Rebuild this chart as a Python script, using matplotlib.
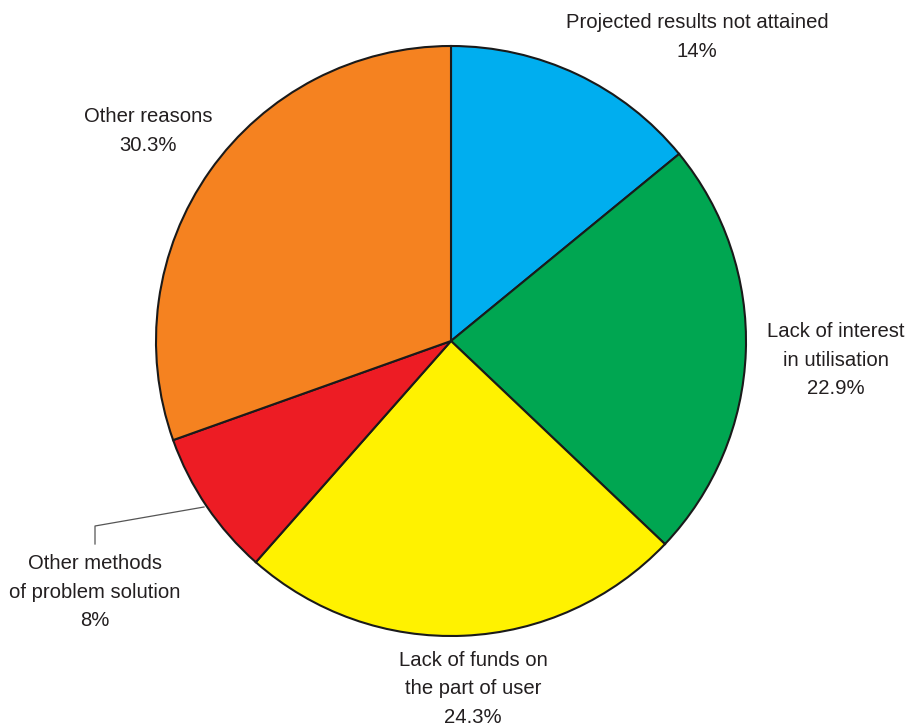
import matplotlib.pyplot as plt

plt.rcParams['font.family'] = ['Liberation Sans', 'DejaVu Sans']

# shares of reasons, clockwise from the top
labels = ['Projected results not attained', 'Lack of interest\nin utilisation',
          'Lack of funds on\nthe part of user', 'Other methods\nof problem solution',
          'Other reasons']
values = [14, 22.9, 24.3, 8, 30.3]
pct_text = ['14%', '22.9%', '24.3%', '8%', '30.3%']
colors = ['#00AEEF', '#00A651', '#FFF200', '#ED1C24', '#F58220']

W, H = 916, 726
fig = plt.figure(figsize=(W / 100, H / 100), dpi=100)
ax = fig.add_axes([0, 0, 1, 1])

cx, cy, r = 451, H - 341, 295
ax.pie(values, colors=colors, startangle=90, counterclock=False,
       center=(cx, cy), radius=r, frame=True,
       wedgeprops=dict(edgecolor='#1a1a1a', linewidth=1.5))
ax.set_xlim(0, W)
ax.set_ylim(0, H)
ax.set_aspect('equal')
ax.axis('off')

# label blocks, centre point in px from top-left
spots = [(697, 37), (836, 360), (473, 689), (95, 592), (148, 131)]
for lab, pct, (x, y) in zip(labels, pct_text, spots):
    ax.text(x, H - y, lab + '\n' + pct, ha='center', va='center',
            fontsize=14.6, color='#231f20', linespacing=1.62)

# leader for the small red slice
ax.plot([204, 95, 95], [H - 507, H - 526, H - 544], color='#555555', lw=0.9)

fig.savefig('out.png', dpi=100, facecolor='white')
